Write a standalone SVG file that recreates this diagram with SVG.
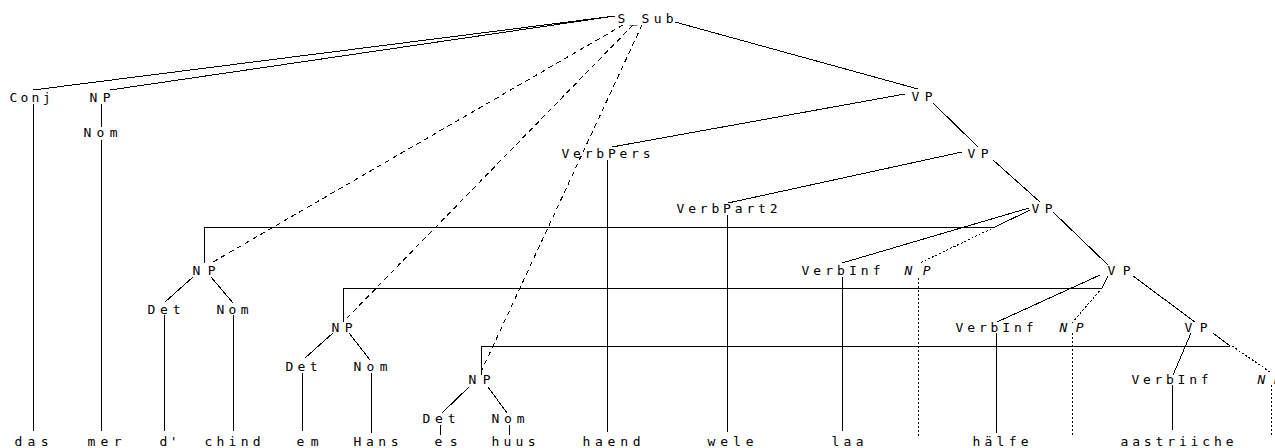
<svg xmlns="http://www.w3.org/2000/svg" width="1275" height="448" viewBox="0 0 1275 448">
  <style>
    text { font-family: "DejaVu Sans Mono", "Liberation Mono", monospace; font-size: 13px; fill: #000; }
    .tr { font-style: italic; }
    line { stroke: #000; stroke-width: 1; shape-rendering: crispEdges; fill: none; }
    .dash { stroke-dasharray: 5 4; }
    .dot { stroke-dasharray: 2 2; }
  </style>
  <rect width="1275" height="448" fill="#fff"/>

  <!-- tree edges -->
  <g id="edges">
    <line x1="615" y1="16" x2="33" y2="90"/>
    <line x1="615" y1="16" x2="110" y2="90"/>
    <line x1="675" y1="22" x2="918" y2="89"/>
    <line x1="33" y1="104" x2="33" y2="431"/>
    <line x1="101" y1="104" x2="101" y2="127"/>
    <line x1="101" y1="140" x2="101" y2="431"/>
    <line x1="905" y1="94" x2="612" y2="147"/>
    <line x1="933" y1="103" x2="978" y2="147"/>
    <line x1="607" y1="160" x2="607" y2="432"/>
    <line x1="962" y1="152" x2="728" y2="203"/>
    <line x1="993" y1="160" x2="1040" y2="202"/>
    <line x1="727" y1="215" x2="727" y2="432"/>
    <line x1="1029" y1="208" x2="842" y2="263"/>
    <line x1="1030" y1="210" x2="995" y2="227"/>
    <line x1="204" y1="227" x2="995" y2="227"/>
    <line x1="204" y1="227" x2="204" y2="263"/>
    <line x1="193" y1="277" x2="165" y2="302"/>
    <line x1="211" y1="277" x2="233" y2="303"/>
    <line x1="164" y1="315" x2="164" y2="431"/>
    <line x1="233" y1="315" x2="233" y2="431"/>
    <line x1="842" y1="277" x2="842" y2="431"/>
    <line x1="1053" y1="212" x2="1108" y2="265"/>
    <line x1="1100" y1="275" x2="997" y2="322"/>
    <line x1="1108" y1="276" x2="1102" y2="288"/>
    <line x1="343" y1="288" x2="1102" y2="288"/>
    <line x1="343" y1="288" x2="343" y2="322"/>
    <line x1="333" y1="333" x2="305" y2="358"/>
    <line x1="349" y1="333" x2="370" y2="360"/>
    <line x1="302" y1="373" x2="302" y2="431"/>
    <line x1="371" y1="373" x2="371" y2="433"/>
    <line x1="996" y1="333" x2="996" y2="433"/>
    <line x1="1133" y1="276" x2="1195" y2="322"/>
    <line x1="1191" y1="333" x2="1173" y2="375"/>
    <line x1="1213" y1="333" x2="1230" y2="346"/>
    <line x1="481" y1="346" x2="1230" y2="346"/>
    <line x1="481" y1="346" x2="481" y2="375"/>
    <line x1="469" y1="387" x2="442" y2="413"/>
    <line x1="488" y1="387" x2="507" y2="413"/>
    <line x1="440" y1="425" x2="440" y2="435"/>
    <line x1="509" y1="425" x2="509" y2="435"/>
    <line x1="1172" y1="385" x2="1172" y2="430"/>
    <!-- secondary edges -->
    <line class="dash" x1="623" y1="25" x2="213" y2="262"/>
    <line class="dash" x1="633" y1="25" x2="347" y2="318"/>
    <line class="dash" x1="642" y1="25" x2="481" y2="372"/>
    <!-- trace edges -->
    <line class="dot" x1="995" y1="227" x2="920" y2="263"/>
    <line class="dot" x1="918" y1="278" x2="918" y2="437"/>
    <line class="dot" x1="1102" y1="288" x2="1072" y2="323"/>
    <line class="dot" x1="1072" y1="333" x2="1072" y2="437"/>
    <line class="dot" x1="1232" y1="346" x2="1270" y2="372"/>
    <line class="dot" x1="1271" y1="385" x2="1271" y2="437"/>
  </g>

  <!-- category nodes -->
  <g id="n-s-sub"><text x="617.5" y="23" textLength="56" lengthAdjust="spacing">S_Sub</text></g>
  <g id="n-conj"><text x="9.5" y="102" textLength="41" lengthAdjust="spacing">Conj</text></g>
  <g id="n-np-1"><text x="89.5" y="102" textLength="21" lengthAdjust="spacing">NP</text></g>
  <g id="n-vp-1"><text x="911.5" y="101" textLength="21" lengthAdjust="spacing">VP</text></g>
  <g id="n-nom-1"><text x="83.5" y="137" textLength="34" lengthAdjust="spacing">Nom</text></g>
  <g id="n-verbpers"><text x="561.5" y="158" textLength="89" lengthAdjust="spacing">VerbPers</text></g>
  <g id="n-vp-2"><text x="967.5" y="158" textLength="21" lengthAdjust="spacing">VP</text></g>
  <g id="n-verbpart2"><text x="676.5" y="213" textLength="101" lengthAdjust="spacing">VerbPart2</text></g>
  <g id="n-vp-3"><text x="1031.5" y="213" textLength="21" lengthAdjust="spacing">VP</text></g>
  <g id="n-np-2"><text x="192.5" y="275" textLength="23" lengthAdjust="spacing">NP</text></g>
  <g id="n-verbinf-1"><text x="801.5" y="275" textLength="79" lengthAdjust="spacing">VerbInf</text></g>
  <g id="n-np-t1"><text class="tr" x="904.5" y="275" textLength="26" lengthAdjust="spacing">NP</text></g>
  <g id="n-vp-4"><text x="1107.5" y="275" textLength="23" lengthAdjust="spacing">VP</text></g>
  <g id="n-det-1"><text x="147.5" y="314" textLength="33" lengthAdjust="spacing">Det</text></g>
  <g id="n-nom-2"><text x="216.5" y="314" textLength="32" lengthAdjust="spacing">Nom</text></g>
  <g id="n-np-3"><text x="331.5" y="332" textLength="21" lengthAdjust="spacing">NP</text></g>
  <g id="n-verbinf-2"><text x="955.5" y="332" textLength="78" lengthAdjust="spacing">VerbInf</text></g>
  <g id="n-np-t2"><text class="tr" x="1059.5" y="332" textLength="24" lengthAdjust="spacing">NP</text></g>
  <g id="n-vp-5"><text x="1184.5" y="332" textLength="23" lengthAdjust="spacing">VP</text></g>
  <g id="n-det-2"><text x="285.5" y="371" textLength="32" lengthAdjust="spacing">Det</text></g>
  <g id="n-nom-3"><text x="353.5" y="371" textLength="34" lengthAdjust="spacing">Nom</text></g>
  <g id="n-np-4"><text x="468.5" y="384" textLength="22" lengthAdjust="spacing">NP</text></g>
  <g id="n-verbinf-3"><text x="1131.5" y="384" textLength="77" lengthAdjust="spacing">VerbInf</text></g>
  <g id="n-np-t3"><text class="tr" x="1257.5" y="384" textLength="24" lengthAdjust="spacing">NP</text></g>
  <g id="n-det-3"><text x="422.5" y="423" textLength="33" lengthAdjust="spacing">Det</text></g>
  <g id="n-nom-4"><text x="491.5" y="423" textLength="33" lengthAdjust="spacing">Nom</text></g>

  <!-- word nodes -->
  <g id="w-das"><text x="14.5" y="446" textLength="34" lengthAdjust="spacing">das</text></g>
  <g id="w-mer"><text x="87.5" y="446" textLength="34" lengthAdjust="spacing">mer</text></g>
  <g id="w-d"><text x="159.5" y="446" textLength="18" lengthAdjust="spacing">d'</text></g>
  <g id="w-chind"><text x="204.5" y="446" textLength="56" lengthAdjust="spacing">chind</text></g>
  <g id="w-em"><text x="296.5" y="446" textLength="22" lengthAdjust="spacing">em</text></g>
  <g id="w-hans"><text x="353.5" y="446" textLength="45" lengthAdjust="spacing">Hans</text></g>
  <g id="w-es"><text x="434.5" y="446" textLength="23" lengthAdjust="spacing">es</text></g>
  <g id="w-huus"><text x="491.5" y="446" textLength="44" lengthAdjust="spacing">huus</text></g>
  <g id="w-haend"><text x="582.5" y="446" textLength="58" lengthAdjust="spacing">haend</text></g>
  <g id="w-wele"><text x="707.5" y="446" textLength="46" lengthAdjust="spacing">wele</text></g>
  <g id="w-laa"><text x="831.5" y="446" textLength="32" lengthAdjust="spacing">laa</text></g>
  <g id="w-haelfe"><text x="972.5" y="446" textLength="56" lengthAdjust="spacing">hälfe</text></g>
  <g id="w-aastriiche"><text x="1120.5" y="446" textLength="113" lengthAdjust="spacing">aastriiche</text></g>
</svg>
